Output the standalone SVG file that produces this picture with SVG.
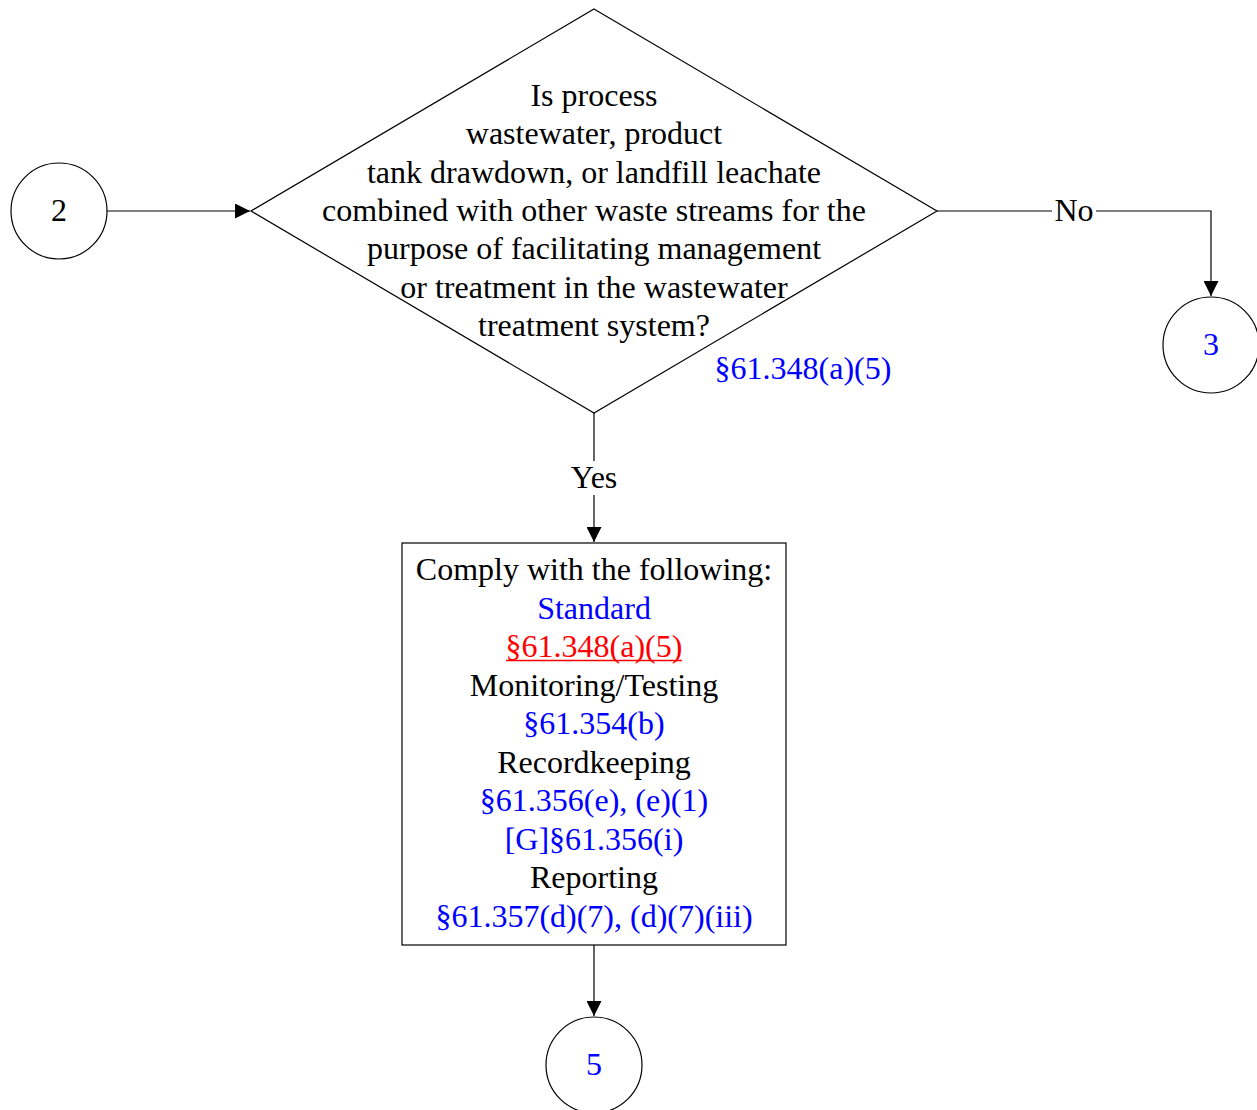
<svg xmlns="http://www.w3.org/2000/svg" width="1257" height="1110" viewBox="0 0 1257 1110">
<style>
text{font-family:"Liberation Serif","Times New Roman",serif;font-size:32px;text-anchor:middle}
.k{fill:#000}.b{fill:#0000ff}.r{fill:#ff0000}
.ul{stroke:#ff0000;stroke-width:1.6}
.shape{fill:#fff;stroke:#000;stroke-width:1.2}
.line{fill:none;stroke:#000;stroke-width:1.2}
.lbl{fill:#fff;stroke:none}
</style>
<defs>
<marker id="arr" viewBox="0 0 10 10" refX="10" refY="5" markerWidth="15" markerHeight="15" markerUnits="userSpaceOnUse" orient="auto">
<path d="M0,0 L10,5 L0,10 z" fill="#000"/>
</marker>
</defs>
<g id="connectors">
<line class="line" x1="107" y1="211" x2="250" y2="211" marker-end="url(#arr)"/>
<polyline class="line" points="937,211 1211,211 1211,296" marker-end="url(#arr)"/>
<line class="line" x1="594" y1="413" x2="594" y2="542" marker-end="url(#arr)"/>
<line class="line" x1="594" y1="945" x2="594" y2="1016" marker-end="url(#arr)"/>
<rect class="lbl" x="1052" y="195" width="44" height="32"/>
<text class="k" x="1074" y="221">No</text>
<rect class="lbl" x="566" y="461" width="56" height="34"/>
<text class="k" x="594" y="488">Yes</text>
</g>
<g id="node-2">
<circle class="shape" cx="59" cy="211" r="48"/>
<text class="k" x="59" y="221">2</text>
</g>
<g id="node-decision">
<polygon class="shape" points="594,9 937,211 594,413 251,211"/>
<text class="k" x="594" y="106">Is process</text>
<text class="k" x="594" y="144">wastewater, product</text>
<text class="k" x="594" y="183">tank drawdown, or landfill leachate</text>
<text class="k" x="594" y="221">combined with other waste streams for the</text>
<text class="k" x="594" y="259">purpose of facilitating management</text>
<text class="k" x="594" y="298">or treatment in the wastewater</text>
<text class="k" x="594" y="336">treatment system?</text>
<text class="b" x="803" y="379">§61.348(a)(5)</text>
</g>
<g id="node-3">
<circle class="shape" cx="1211" cy="345" r="48"/>
<text class="b" x="1211" y="355">3</text>
</g>
<g id="node-comply">
<rect class="shape" x="402" y="543" width="384" height="402"/>
<text class="k" x="594" y="580">Comply with the following:</text>
<text class="b" x="594" y="619">Standard</text>
<text class="r" x="594" y="657">§61.348(a)(5)</text>
<line class="ul" x1="506" y1="660.5" x2="682" y2="660.5"/>
<text class="k" x="594" y="696">Monitoring/Testing</text>
<text class="b" x="594" y="734">§61.354(b)</text>
<text class="k" x="594" y="773">Recordkeeping</text>
<text class="b" x="594" y="811">§61.356(e), (e)(1)</text>
<text class="b" x="594" y="850">[G]§61.356(i)</text>
<text class="k" x="594" y="888">Reporting</text>
<text class="b" x="594" y="927">§61.357(d)(7), (d)(7)(iii)</text>
</g>
<g id="node-5">
<circle class="shape" cx="594" cy="1065" r="48"/>
<text class="b" x="594" y="1075">5</text>
</g>
</svg>
